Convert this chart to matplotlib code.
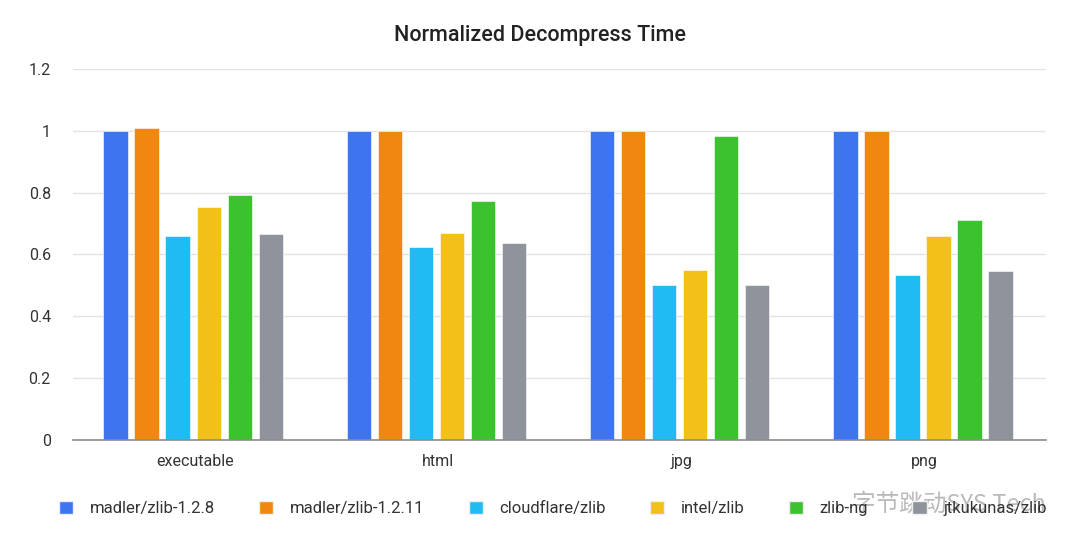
import numpy as np
import matplotlib.pyplot as plt
from matplotlib.patches import Patch

plt.rcParams["font.family"] = ["Roboto", "DejaVu Sans"]

categories = ["executable", "html", "jpg", "png"]
series = ["madler/zlib-1.2.8", "madler/zlib-1.2.11", "cloudflare/zlib",
          "intel/zlib", "zlib-ng", "jtkukunas/zlib"]
colors = ["#3D75F0", "#F0870F", "#20BBF2", "#F2C018", "#3CC12F", "#8F939B"]

madler_128 = [1.0, 1.0, 1.0, 1.0]
madler_1211 = [1.008, 1.0, 1.0, 1.0]
cloudflare = [0.661, 0.624, 0.501, 0.534]
intel = [0.753, 0.669, 0.551, 0.660]
zlib_ng = [0.791, 0.773, 0.982, 0.711]
jtkukunas = [0.667, 0.637, 0.501, 0.547]
values = [madler_128, madler_1211, cloudflare, intel, zlib_ng, jtkukunas]

yticks = [0, 0.2, 0.4, 0.6, 0.8, 1.0, 1.2]
ytick_labels = ["0", "0.2", "0.4", "0.6", "0.8", "1", "1.2"]

fig = plt.figure(figsize=(10.8, 5.51), dpi=100)
ax = fig.add_axes([73 / 1080, 0.2015, 973 / 1080, 0.6735])

x = np.arange(len(categories))
width = 0.100
step = 0.1275
for i, (vals, col) in enumerate(zip(values, colors)):
    offset = (i - 2.5) * step - 0.006
    ax.bar(x + offset, vals, width, color=col, edgecolor="white", linewidth=0.4, zorder=3)

ax.set_xlim(-0.5, len(categories) - 0.5)
ax.set_ylim(0, 1.2)
ax.set_yticks(yticks)
ax.set_yticklabels(ytick_labels)
ax.set_xticks(x)
ax.set_xticklabels(categories)
ax.tick_params(axis="both", length=0, labelsize=11.5, colors="#333333")
ax.tick_params(axis="x", pad=10)
ax.tick_params(axis="y", pad=16)
ax.grid(axis="y", color="#E3E3E3", linewidth=1, zorder=0)
for s in ["top", "right", "left"]:
    ax.spines[s].set_visible(False)
ax.spines["bottom"].set_color("#8C8C8C")
ax.spines["bottom"].set_linewidth(1.2)
ax.spines["bottom"].set_zorder(4)

fig.text(0.5, 0.935, "Normalized Decompress Time", ha="center", va="center",
         fontsize=15.5, fontweight="medium", color="#222222")

handles = [Patch(facecolor=c, edgecolor="#EEEEEE") for c in colors]
fig.legend(handles, series, loc="center", bbox_to_anchor=(0.512, 0.077), ncol=6,
           frameon=False, fontsize=12, handlelength=0.85, handleheight=0.85,
           columnspacing=2.65, handletextpad=1.0, labelcolor="#333333")

# watermark overlay seen in the reference
fig.text(0.968, 0.086, "字节跳动SYS Tech", ha="right", va="center", fontsize=17,
         color="#666666", alpha=0.45, family=["Noto Sans CJK SC", "DejaVu Sans"])

plt.savefig("out.png", dpi=100)
